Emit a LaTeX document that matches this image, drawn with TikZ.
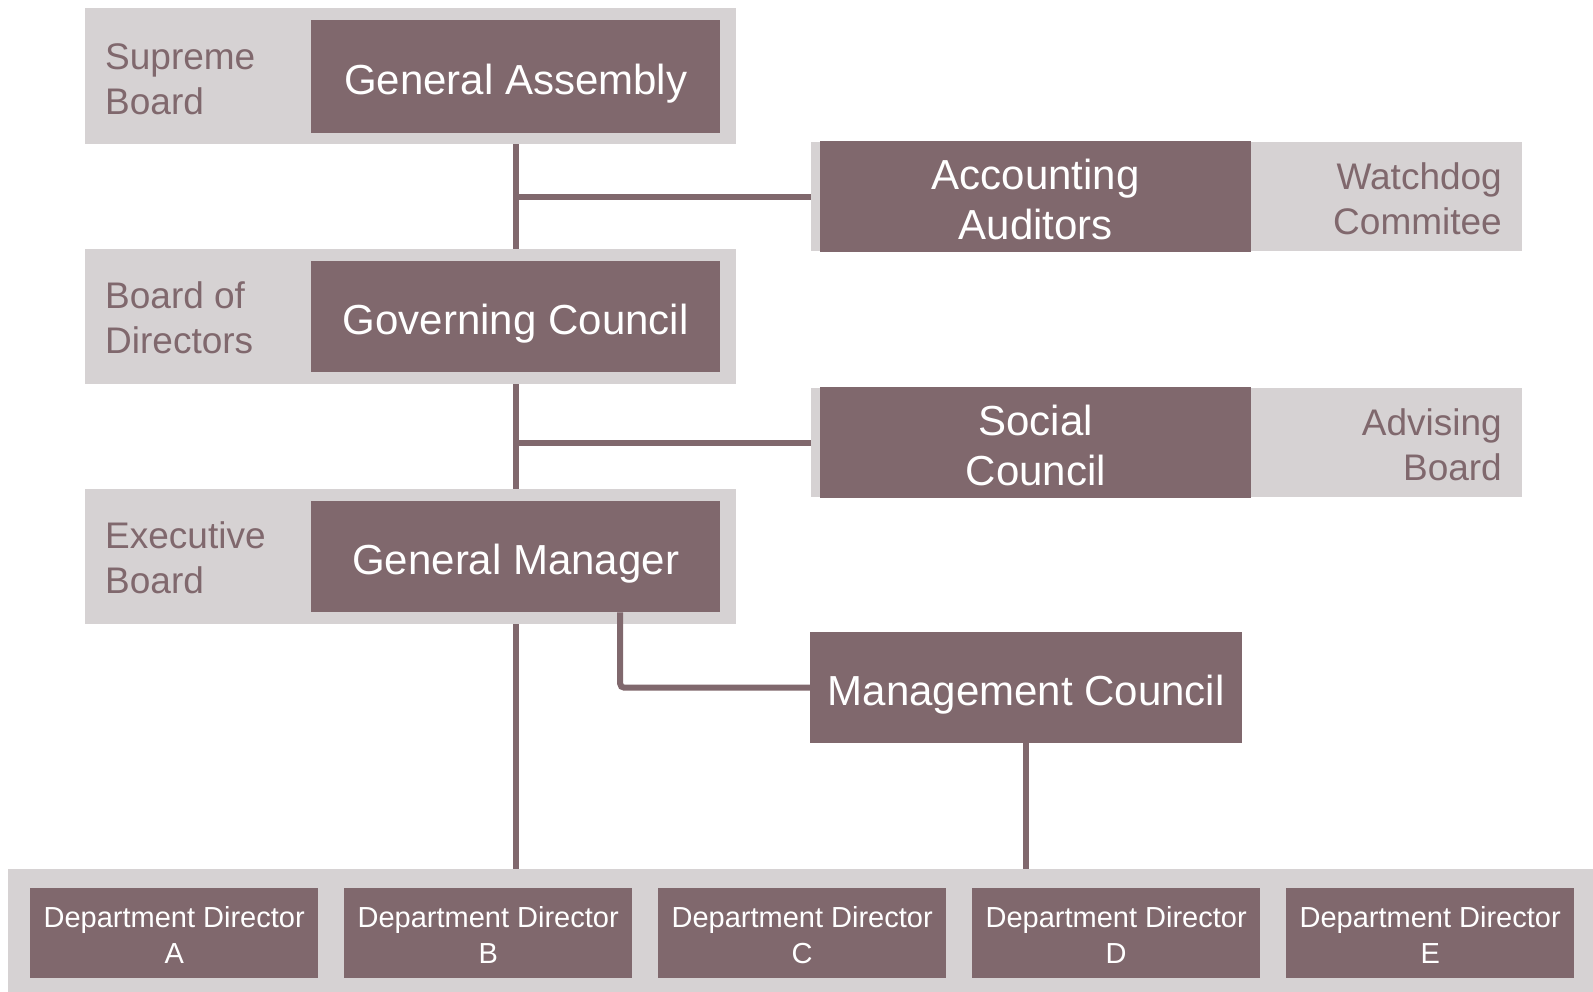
\documentclass[tikz,border=0pt]{standalone}
\usepackage{fontspec}
\setmainfont{Liberation Sans}
\definecolor{darkbox}{RGB}{128,104,109}
\definecolor{lightbox}{RGB}{214,210,211}
\tikzset{
 grp/.style={fill=lightbox, draw=none, inner sep=0pt, anchor=north west, rectangle},
 mainbox/.style={fill=darkbox, text=white, inner sep=0pt, anchor=north west, align=center, font=\fontsize{42}{50}\selectfont},
 oneline/.style={text height=35pt, text depth=0pt},
 twoline/.style={text height=85pt, text depth=0pt},
 lbl/.style={text=darkbox, inner sep=0pt, font=\fontsize{37}{45}\selectfont},
 dept/.style={fill=darkbox, text=white, inner sep=0pt, anchor=north west, align=center, minimum width=288pt, minimum height=90pt, text height=60pt, text depth=0pt, font=\fontsize{29}{35.5}\selectfont},
 link/.style={draw=darkbox, line width=6pt},
}
\begin{document}
\begin{tikzpicture}[x=1pt,y=-1pt]
\useasboundingbox[fill=white] (0,0) rectangle (1593,992);
% left column
\node[grp, minimum width=651pt, minimum height=136pt] (gaG) at (85,8) {};
\node[mainbox, oneline, minimum width=409pt, minimum height=113pt] (ga) at (311,20) {General Assembly};
\node[lbl, anchor=west, align=left] (gaL) at (105,79) {Supreme\\Board};

\node[grp, minimum width=651pt, minimum height=135pt] (gcG) at (85,249) {};
\node[mainbox, oneline, minimum width=409pt, minimum height=111pt] (gc) at (311,261) {Governing Council};
\node[lbl, anchor=west, align=left] (gcL) at (105,318) {Board of\\Directors};

\node[grp, minimum width=651pt, minimum height=135pt] (gmG) at (85,489) {};
\node[mainbox, oneline, minimum width=409pt, minimum height=111pt] (gm) at (311,501) {General Manager};
\node[lbl, anchor=west, align=left] (gmL) at (105,558) {Executive\\Board};

% right column
\node[grp, minimum width=711pt, minimum height=109pt] (aaG) at (811,142) {};
\node[mainbox, twoline, minimum width=431pt, minimum height=111pt] (aa) at (820,141) {Accounting\\Auditors};
\node[lbl, anchor=east, align=right] (aaL) at (1502,198.5) {Watchdog\\Commitee};

\node[grp, minimum width=711pt, minimum height=109pt] (scG) at (811,388) {};
\node[mainbox, twoline, minimum width=431pt, minimum height=111pt] (sc) at (820,387) {Social\\Council};
\node[lbl, anchor=east, align=right] (scL) at (1502,444.5) {Advising\\Board};

\node[mainbox, minimum width=432pt, minimum height=111pt, text height=36pt, text depth=0pt] (mc) at (810,632) {Management Council};

% bottom band
\node[grp, minimum width=1585pt, minimum height=123pt] (band) at (8,869) {};
\node[dept] (dA) at (30,888) {Department Director\\A};
\node[dept] (dB) at (344,888) {Department Director\\B};
\node[dept] (dC) at (658,888) {Department Director\\C};
\node[dept] (dD) at (972,888) {Department Director\\D};
\node[dept] (dE) at (1286,888) {Department Director\\E};

% connectors
\draw[link] (ga.south |- gaG.south) -- (ga.south |- gcG.north);
\draw[link] (aaG.west) -- (aaG.west -| ga.south);
\draw[link] (gc.south |- gcG.south) -- (gc.south |- gmG.north);
\draw[link] (scG.west) -- (scG.west -| gc.south);
\draw[link] (gm.south |- gmG.south) -- (gm.south |- band.north);
\coordinate (tap) at ([xshift=104.5pt]gm.south);
\draw[link, rounded corners=4pt] (tap) |- (mc.west);
\draw[link] (mc.south) -- (mc.south |- band.north);
\end{tikzpicture}
\end{document}
